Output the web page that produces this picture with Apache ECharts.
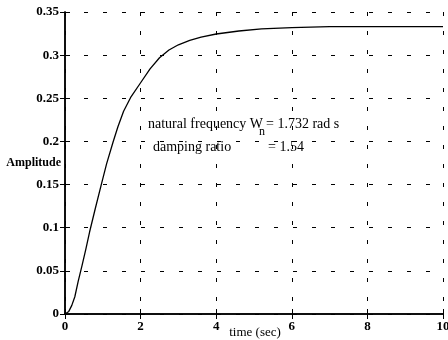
<!DOCTYPE html>
<html>
<head>
<meta charset="utf-8">
<script src="https://cdn.jsdelivr.net/npm/echarts@6/dist/echarts.min.js"></script>
<style>html,body{margin:0;padding:0;background:#fff}#c{width:448px;height:340px}</style>
</head>
<body>
<div id="c"></div>
<script>
// time (sec)
var timeValues = [0, 0.1, 0.18, 0.26, 0.35, 0.45, 0.55, 0.65, 0.8, 0.96, 1.1, 1.27, 1.4, 1.55, 1.75, 2.0, 2.25, 2.5, 2.75, 3.0, 3.3, 3.6, 4.0, 4.6, 5.2, 6, 7, 8, 9, 10];
// amplitude
var amplitudeValues = [0, 0.003, 0.01, 0.02, 0.038, 0.056, 0.075, 0.095, 0.122, 0.15, 0.174, 0.199, 0.217, 0.235, 0.252, 0.268, 0.284, 0.297, 0.306, 0.312, 0.317, 0.321, 0.3245, 0.328, 0.3305, 0.332, 0.333, 0.333, 0.333, 0.333];
var xTicks = [0, 2, 4, 6, 8, 10];
var yTicks = [0, 0.05, 0.1, 0.15, 0.2, 0.25, 0.3, 0.35];
var annotationLines = ["natural frequency W", "n", "= 1.732 rad s", "damping ratio", "= 1.54"];

var FONT = '"Liberation Serif", "DejaVu Serif", serif';
var chart = echarts.init(document.getElementById('c'));
var pts = timeValues.map(function (t, i) { return [t, amplitudeValues[i]]; });
var gridLine = { show: true, lineStyle: { color: '#000', type: [4, 15], width: 1 } };
var axisLine = { show: true, lineStyle: { color: '#000', width: 1.5 } };
var tick = { show: true, inside: true, length: 5, lineStyle: { color: '#000', width: 1 } };
chart.setOption({
  animation: false,
  backgroundColor: '#fff',
  grid: { left: 65, right: 5, top: 12, bottom: 26, containLabel: false, outerBoundsMode: 'none' },
  xAxis: [{
    type: 'value', min: xTicks[0], max: xTicks[xTicks.length - 1], interval: 2,
    axisLine: axisLine, axisTick: tick, splitLine: gridLine,
    axisLabel: { color: '#000', fontFamily: FONT, fontSize: 13, fontWeight: 'bold', margin: 6 },
    name: 'time (sec)', nameLocation: 'middle', nameGap: 12, nameMoveOverlap: false,
    nameTextStyle: { color: '#000', fontFamily: FONT, fontSize: 13, padding: [0, 0, 0, 2] }
  }, {
    type: 'value', position: 'top', min: 0, max: 10, interval: 2,
    axisLine: axisLine, axisTick: tick, axisLabel: { show: false }, splitLine: { show: false }
  }],
  yAxis: [{
    type: 'value', min: 0, max: 0.35, interval: 0.05,
    axisLine: axisLine, axisTick: tick, splitLine: gridLine,
    axisLabel: { color: '#000', fontFamily: FONT, fontSize: 13, fontWeight: 'bold', margin: 6,
      formatter: function (v) { return String(+v.toFixed(2)); } },
    name: 'Amplitude', nameLocation: 'middle', nameRotate: 0, nameGap: 4, nameMoveOverlap: false,
    nameTextStyle: { color: '#000', fontFamily: FONT, fontSize: 12, fontWeight: 'bold' }
  }, {
    type: 'value', position: 'right', min: 0, max: 0.35, interval: 0.05,
    axisLine: axisLine, axisTick: tick, axisLabel: { show: false }, splitLine: { show: false }
  }],
  series: [{
    type: 'line', data: pts, showSymbol: false, smooth: false,
    lineStyle: { color: '#000', width: 1.3 }, z: 5
  }],
  graphic: [
    { type: 'text', left: 148, top: 117, style: { text: annotationLines[0], font: '14px ' + FONT, fill: '#000' } },
    { type: 'text', left: 259, top: 126, style: { text: annotationLines[1], font: '12px ' + FONT, fill: '#000' } },
    { type: 'text', left: 266, top: 117, style: { text: annotationLines[2], font: '14px ' + FONT, fill: '#000' } },
    { type: 'text', left: 153, top: 140, style: { text: annotationLines[3], font: '14px ' + FONT, fill: '#000' } },
    { type: 'text', left: 268, top: 140, style: { text: annotationLines[4], font: '14px ' + FONT, fill: '#000' } }
  ]
});
</script>
</body>
</html>
